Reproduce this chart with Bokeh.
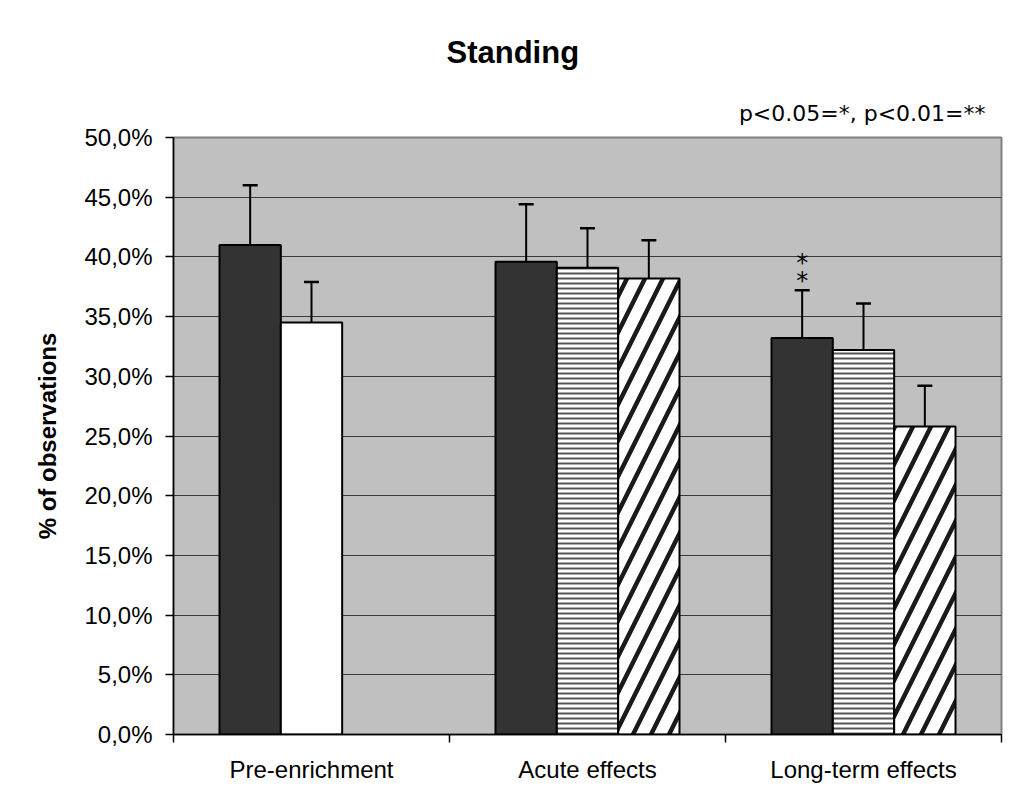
from bokeh.plotting import figure
from bokeh.models import ColumnDataSource, FixedTicker, Whisker, TeeHead, Range1d, Title
from bokeh.embed import file_html
from bokeh.resources import INLINE
from bokeh.core.properties import value

# ---------------- data ----------------
categories = ["Pre-enrichment", "Acute effects", "Long-term effects"]
y_ticks = [0, 5, 10, 15, 20, 25, 30, 35, 40, 45, 50]
y_tick_labels = ["0,0%", "5,0%", "10,0%", "15,0%", "20,0%", "25,0%",
                 "30,0%", "35,0%", "40,0%", "45,0%", "50,0%"]

series1 = [41.0, 39.6, 33.2]
series1_upper = [46.0, 44.4, 37.2]
series2 = [34.5, 39.1, 32.2]
series2_upper = [37.9, 42.4, 36.1]
series3 = [None, 38.2, 25.8]
series3_upper = [None, 41.4, 29.2]
series1_sig = ["", "", "**"]

title_text = "Standing"
y_label = "% of observations"
note_text = "p<0.05=*, p<0.01=**"

# ---------------- geometry (Excel-like clustered columns, gap width 150%) ----
n_series = 3
bar_w = 1.0 / (n_series + 1.5)
half_gap = 0.75 * bar_w


def bar_x(i, k):
    return i + half_gap + bar_w * (k + 0.5)


solid = dict(x=[], top=[], upper=[], color=[])
hline = dict(x=[], top=[], upper=[])
diag = dict(x=[], top=[], upper=[])
whisk = dict(x=[], top=[], upper=[])

for i in range(len(categories)):
    solid["x"].append(bar_x(i, 0)); solid["top"].append(series1[i])
    solid["upper"].append(series1_upper[i]); solid["color"].append("#333333")
    if i == 0:
        solid["x"].append(bar_x(i, 1)); solid["top"].append(series2[i])
        solid["upper"].append(series2_upper[i]); solid["color"].append("#ffffff")
    else:
        hline["x"].append(bar_x(i, 1)); hline["top"].append(series2[i])
        hline["upper"].append(series2_upper[i])
    if series3[i] is not None:
        diag["x"].append(bar_x(i, 2)); diag["top"].append(series3[i])
        diag["upper"].append(series3_upper[i])

for d in (solid, hline, diag):
    whisk["x"] += d["x"]; whisk["top"] += d["top"]; whisk["upper"] += d["upper"]

sig_x = [bar_x(i, 0) for i in range(len(categories)) if series1_sig[i]]
sig_y = [series1_upper[i] for i in range(len(categories)) if series1_sig[i]]

# ---------------- figure ----------------
p = figure(width=1008, height=810, output_backend="svg", toolbar_location=None,
           x_range=Range1d(0, 3), y_range=Range1d(0, 50),
           min_border_left=173, min_border_right=7, min_border_top=137,
           min_border_bottom=76)

p.background_fill_color = "#c0c0c0"
p.border_fill_color = "white"
p.outline_line_color = "#808080"
p.outline_line_width = 2

# title (Excel chart title, placed left of centre over the chart area)
p.title.text = title_text
p.title.text_font = "Liberation Sans"
p.title.text_font_size = "31px"
p.title.text_font_style = "bold"
p.title.text_color = "black"
p.title.align = "left"
p.title.offset = 273
p.title.standoff = 35

note = Title(text=note_text, text_font="DejaVu Sans", text_font_size="22px",
             text_font_style="normal", text_color="black", align="right",
             offset=16, standoff=23)
p.add_layout(note, "above")

p.xgrid.visible = False
p.ygrid.ticker = FixedTicker(ticks=y_ticks[1:-1])
p.ygrid.grid_line_color = "#3a3a3a"
p.ygrid.grid_line_width = 1.2

# y axis
p.yaxis.ticker = FixedTicker(ticks=y_ticks)
p.yaxis.major_label_overrides = {t: l for t, l in zip(y_ticks, y_tick_labels)}
p.yaxis.major_label_text_font = "Liberation Sans"
p.yaxis.major_label_text_font_size = "24px"
p.yaxis.major_label_text_color = "black"
p.yaxis.major_tick_out = 8
p.yaxis.major_tick_in = 0
p.yaxis.minor_tick_line_color = None
p.yaxis.axis_line_color = "black"
p.yaxis.axis_line_width = 1.5
p.yaxis.major_tick_line_width = 1.5
p.yaxis.major_label_standoff = 13
p.yaxis.axis_label = y_label
p.yaxis.axis_label_text_font = "Liberation Sans"
p.yaxis.axis_label_text_font_size = "24px"
p.yaxis.axis_label_text_font_style = "bold"
p.yaxis.axis_label_text_color = "black"
p.yaxis.axis_label_standoff = 20

# x axis
cat_centers = [i + 0.5 for i in range(len(categories))]
p.xaxis.ticker = FixedTicker(ticks=cat_centers, minor_ticks=list(range(len(categories) + 1)))
p.xaxis.major_label_overrides = {c: n for c, n in zip(cat_centers, categories)}
p.xaxis.major_label_text_font = "Liberation Sans"
p.xaxis.major_label_text_font_size = "24px"
p.xaxis.major_label_text_color = "black"
p.xaxis.major_tick_out = 0
p.xaxis.major_tick_in = 0
p.xaxis.major_tick_line_color = None
p.xaxis.minor_tick_out = 8
p.xaxis.minor_tick_in = 0
p.xaxis.minor_tick_line_color = "black"
p.xaxis.minor_tick_line_width = 1.5
p.xaxis.axis_line_color = "black"
p.xaxis.axis_line_width = 1.5
p.xaxis.major_label_standoff = 13

# bars
p.vbar(x="x", top="top", width=bar_w, bottom=0, source=ColumnDataSource(solid),
       fill_color="color", line_color="black", line_width=2)
p.vbar(x="x", top="top", width=bar_w, bottom=0, source=ColumnDataSource(hline),
       fill_color="white", line_color="black", line_width=2,
       hatch_pattern="horizontal_line", hatch_color="#555555", hatch_scale=5, hatch_weight=2)
p.vbar(x="x", top="top", width=bar_w, bottom=0, source=ColumnDataSource(diag),
       fill_color="white", line_color="black", line_width=2,
       hatch_pattern="right_diagonal_line", hatch_color="#1a1a1a", hatch_scale=36, hatch_weight=4.5)

# error bars (upper only)
wsrc = ColumnDataSource(whisk)
w = Whisker(source=wsrc, base="x", lower="top", upper="upper", dimension="height",
            line_color="black", line_width=2, lower_head=None,
            upper_head=TeeHead(size=15, line_color="black", line_width=2.5), level="overlay")
p.add_layout(w)

# significance asterisks
for off in (-9, -27):
    p.text(x=sig_x, y=sig_y, text=["*"] * len(sig_x), y_offset=off,
           text_font=value("DejaVu Sans"), text_font_size="24px", text_align="center",
           text_baseline="alphabetic", text_color="black")

open("out.html", "w").write(file_html(p, INLINE))
